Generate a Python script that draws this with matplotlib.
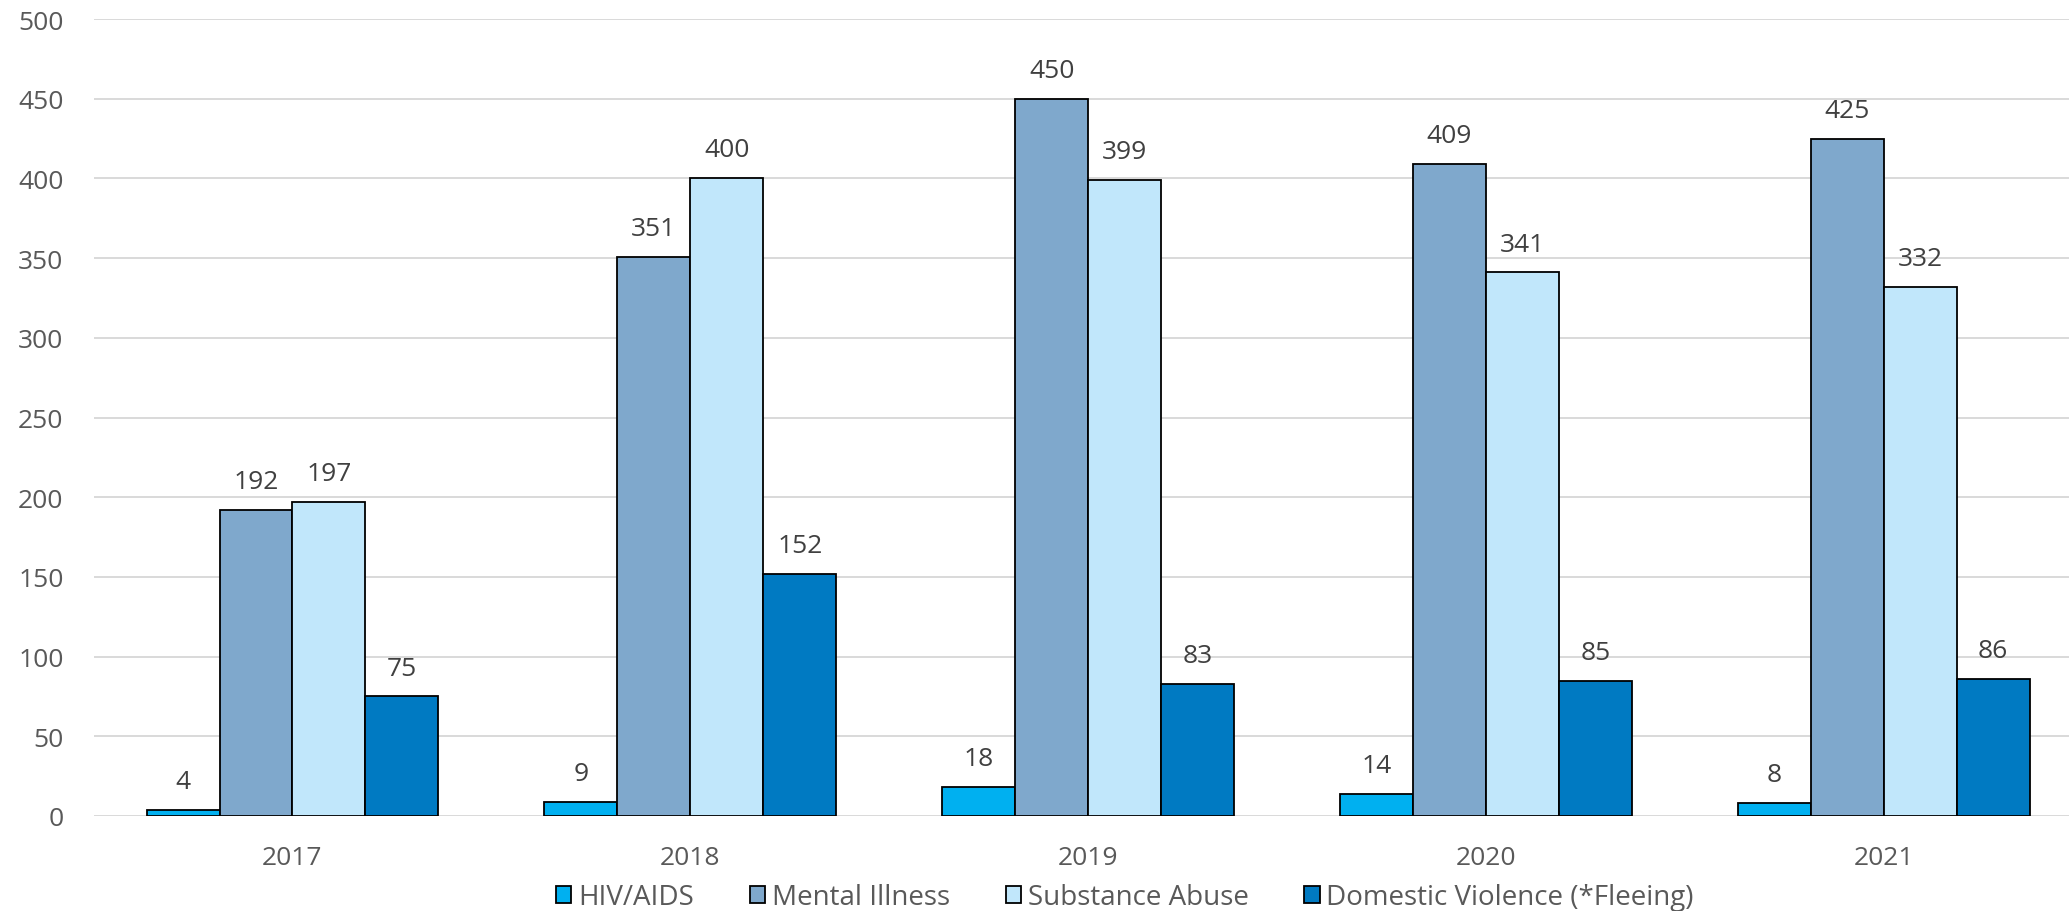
import matplotlib
matplotlib.use("Agg")
import matplotlib.pyplot as plt
import numpy as np

years = ["2017", "2018", "2019", "2020", "2021"]
series_names = ["HIV/AIDS", "Mental Illness", "Substance Abuse", "Domestic Violence (*Fleeing)"]
hiv = [4, 9, 18, 14, 8]
mental = [192, 351, 450, 409, 425]
substance = [197, 400, 399, 341, 332]
domestic = [75, 152, 83, 85, 86]
colors = ["#00B0F0", "#7FA8CC", "#C1E7FB", "#007AC2"]

plt.rcParams['font.family'] = ['Open Sans', 'DejaVu Sans']

fig = plt.figure(figsize=(20.72, 9.12), dpi=100)
ax = fig.add_axes([94/2072, (912-817)/912, 1975/2072, 797/912])

x = np.arange(len(years))
w = 0.1835
data = [hiv, mental, substance, domestic]
for k, (vals, name, c) in enumerate(zip(data, series_names, colors)):
    pos = x + (k - 1.5) * w
    ax.bar(pos, vals, width=w, color=c, edgecolor="black", linewidth=1.3, label=name, zorder=3)
    for xi, v in zip(pos, vals):
        ax.annotate(str(v), (xi, v), xytext=(0, 15.8), textcoords="offset points",
                    ha="center", va="baseline", fontsize=19, color="#404040")

ax.set_xlim(-0.499, 4.466)
ax.set_ylim(0, 500)
ax.set_yticks(np.arange(0, 501, 50))
ax.set_xticks(x)
ax.set_xticklabels(years)
ax.yaxis.grid(True, color="#D9D9D9", linewidth=1.4, zorder=0)
ax.set_axisbelow(True)
for s in ax.spines.values():
    s.set_visible(False)
ax.tick_params(axis="both", length=0, labelsize=19, labelcolor="#595959")
ax.tick_params(axis="x", pad=21)
ax.tick_params(axis="y", pad=22)

fig.legend(loc="center", bbox_to_anchor=(0.543, 1 - 898/912), ncol=4, frameon=False,
           fontsize=20, handlelength=0.55, handleheight=0.55, handletextpad=0.25,
           columnspacing=2.0, labelcolor="#595959", borderpad=0.0)

fig.savefig("out.png", dpi=100)
